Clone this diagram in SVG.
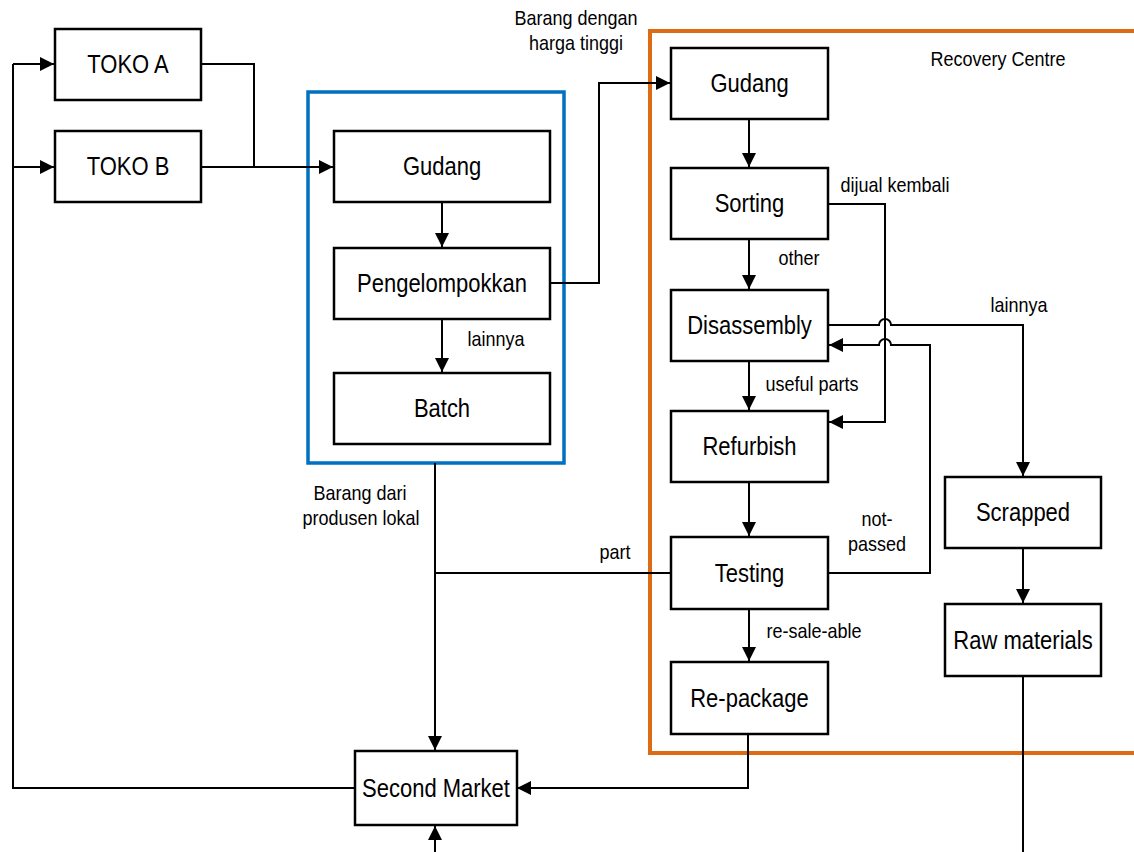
<svg xmlns="http://www.w3.org/2000/svg" width="1134" height="852" viewBox="0 0 1134 852">
<style>
.box{fill:#fff;stroke:#000;stroke-width:2.5}
.c{fill:none;stroke:#000;stroke-width:2}
.ca{fill:none;stroke:#000;stroke-width:2;marker-end:url(#ah)}
.t{font-family:"Liberation Sans",Arial,sans-serif;font-size:25px;fill:#000;text-anchor:middle}
.l{font-family:"Liberation Sans",Arial,sans-serif;font-size:20px;fill:#000;text-anchor:middle}
</style>
<defs>
<marker id="ah" viewBox="0 0 14 14" refX="14" refY="7" markerWidth="14" markerHeight="14" orient="auto" markerUnits="userSpaceOnUse"><path d="M0,0 L14,7 L0,14 z" fill="#000"/></marker>
</defs>
<rect width="1134" height="852" fill="#fff"/>
<g id="blue-group"><rect x="308" y="92" width="256" height="371" fill="none" stroke="#0070C0" stroke-width="3.5"/></g>
<g id="recovery-centre"><path d="M1140,31 H650 V753 H1140" fill="none" stroke="#DD6B14" stroke-width="4"/><text class="l" transform="translate(998 66) scale(0.9 1)">Recovery Centre</text></g>
<g id="connectors">
<path class="c" d="M201,64 H254 V167"/>
<path class="ca" d="M201,167 H333"/>
<path class="ca" d="M442,202 V247"/>
<path class="ca" d="M442,319 V372"/>
<path class="ca" d="M550,283 H599 V83 H670"/>
<path class="ca" d="M435,463 V750"/>
<path class="c" d="M671,573 H435"/>
<path class="ca" d="M749,119 V167"/>
<path class="ca" d="M749,239 V289"/>
<path class="ca" d="M749,361 V410"/>
<path class="ca" d="M749,482 V536"/>
<path class="ca" d="M749,609 V661"/>
<path class="ca" d="M748,734 V788 H517"/>
<path class="ca" d="M828,204 H885 V422 H829"/>
<path class="ca" d="M828,325 H879 A6,6 0 0 1 891,325 H1023 V476"/>
<path class="ca" d="M828,573 H930 V345 H891 A6,6 0 0 0 879,345 H829"/>
<path class="ca" d="M1023,548 V603"/>
<path class="c" d="M1023,676 V852"/>
<path class="c" d="M354,788 H13 V64"/>
<path class="ca" d="M13,64 H54"/>
<path class="ca" d="M13,167 H54"/>
<path class="ca" d="M435,852 V826"/>
</g>
<g id="labels">
<text class="l" transform="translate(576 25) scale(0.9 1)">Barang dengan</text>
<text class="l" transform="translate(576 50) scale(0.9 1)">harga tinggi</text>
<text class="l" transform="translate(895 192) scale(0.9 1)">dijual kembali</text>
<text class="l" transform="translate(799 265) scale(0.9 1)">other</text>
<text class="l" transform="translate(496 346) scale(0.9 1)">lainnya</text>
<text class="l" transform="translate(1019 312) scale(0.9 1)">lainnya</text>
<text class="l" transform="translate(812 391) scale(0.9 1)">useful parts</text>
<text class="l" transform="translate(360 500) scale(0.9 1)">Barang dari</text>
<text class="l" transform="translate(361 525) scale(0.9 1)">produsen lokal</text>
<text class="l" transform="translate(615 559) scale(0.9 1)">part</text>
<text class="l" transform="translate(877 526) scale(0.9 1)">not-</text>
<text class="l" transform="translate(877 551) scale(0.9 1)">passed</text>
<text class="l" transform="translate(814 638) scale(0.9 1)">re-sale-able</text>
</g>
<g id="toko-a"><rect class="box" x="55" y="29" width="146" height="71"/><text class="t" transform="translate(128 73) scale(0.88 1)">TOKO A</text></g>
<g id="toko-b"><rect class="box" x="55" y="131" width="146" height="71"/><text class="t" transform="translate(128 175) scale(0.88 1)">TOKO B</text></g>
<g id="gudang-1"><rect class="box" x="334" y="131" width="216" height="71"/><text class="t" transform="translate(442 175) scale(0.88 1)">Gudang</text></g>
<g id="pengelompokkan"><rect class="box" x="334" y="248" width="216" height="71"/><text class="t" transform="translate(442 292) scale(0.88 1)">Pengelompokkan</text></g>
<g id="batch"><rect class="box" x="334" y="373" width="216" height="71"/><text class="t" transform="translate(442 417) scale(0.88 1)">Batch</text></g>
<g id="gudang-2"><rect class="box" x="671" y="48" width="157" height="71"/><text class="t" transform="translate(749.5 92) scale(0.88 1)">Gudang</text></g>
<g id="sorting"><rect class="box" x="671" y="168" width="157" height="71"/><text class="t" transform="translate(749.5 212) scale(0.88 1)">Sorting</text></g>
<g id="disassembly"><rect class="box" x="671" y="290" width="157" height="71"/><text class="t" transform="translate(749.5 334) scale(0.88 1)">Disassembly</text></g>
<g id="refurbish"><rect class="box" x="671" y="411" width="157" height="71"/><text class="t" transform="translate(749.5 455) scale(0.88 1)">Refurbish</text></g>
<g id="testing"><rect class="box" x="671" y="537" width="157" height="72"/><text class="t" transform="translate(749.5 582) scale(0.88 1)">Testing</text></g>
<g id="re-package"><rect class="box" x="671" y="662" width="157" height="72"/><text class="t" transform="translate(749.5 707) scale(0.88 1)">Re-package</text></g>
<g id="scrapped"><rect class="box" x="945" y="477" width="156" height="71"/><text class="t" transform="translate(1023 521) scale(0.88 1)">Scrapped</text></g>
<g id="raw-materials"><rect class="box" x="945" y="604" width="156" height="72"/><text class="t" transform="translate(1023 649) scale(0.88 1)">Raw materials</text></g>
<g id="second-market"><rect class="box" x="355" y="751" width="162" height="74"/><text class="t" transform="translate(436 797) scale(0.88 1)">Second Market</text></g>
</svg>
